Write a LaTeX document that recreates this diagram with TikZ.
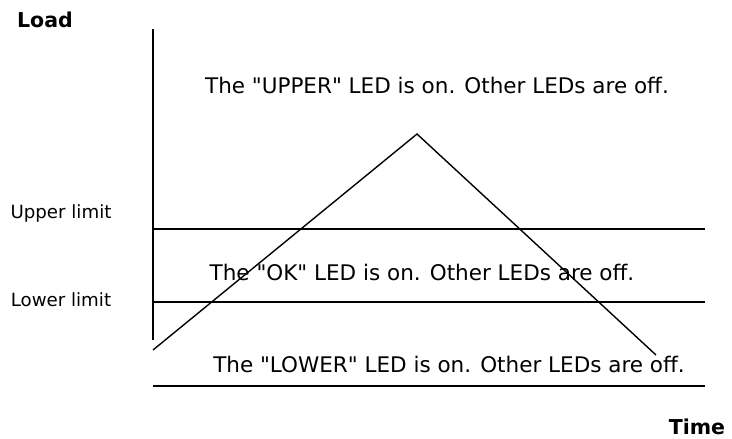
\documentclass[tikz,border=0pt]{standalone}
\usepackage{fontspec}
\setmainfont{DejaVu Sans}[Ligatures=TeXOff]
\usepackage{tikz}
\tikzset{
  msg/.style={font=\fontsize{21.5}{24}\selectfont, inner sep=0pt},
  lim/.style={font=\fontsize{18.2}{21}\selectfont, inner sep=0pt},
  axlbl/.style={font=\bfseries\fontsize{20.5}{23}\selectfont, inner sep=0pt},
  edge/.style={line width=1.4pt}
}

\begin{document}
\begin{tikzpicture}[x=1pt, y=-1pt]
  \useasboundingbox (0,0) rectangle (732,439);
  % axis and limit lines
  \coordinate (axtop) at (153,29);
  \coordinate (axbot) at (153,340);
  \coordinate (upl) at (153,229);  \coordinate (upr) at (705,229);
  \coordinate (lol) at (153,302);  \coordinate (lor) at (705,302);
  \coordinate (bol) at (153,386);  \coordinate (bor) at (705,386);
  \draw[edge] (axtop) -- (axbot);
  \draw[edge] (upl) -- (upr);
  \draw[edge] (lol) -- (lor);
  \draw[edge] (bol) -- (bor);
  % load curve
  \coordinate (start) at (153,350);
  \coordinate (peak) at (417,134);
  \coordinate (stop) at (656,355);
  \draw[edge] (start) -- (peak) -- (stop);
  % labels
  \node[axlbl] (load) at (45,20) {Load};
  \node[axlbl] (time) at (697,427) {Time};
  \node[lim] (upper) at (61,213) {Upper limit};
  \node[lim] (lower) at (61,300) {Lower limit};
  \node[msg] (upmsg) at (437,85) {The "UPPER" LED is on. Other LEDs are off.};
  \node[msg] (okmsg) at (422,272) {The "OK" LED is on. Other LEDs are off.};
  \node[msg] (lowmsg) at (449,364) {The "LOWER" LED is on. Other LEDs are off.};
\end{tikzpicture}
\end{document}
